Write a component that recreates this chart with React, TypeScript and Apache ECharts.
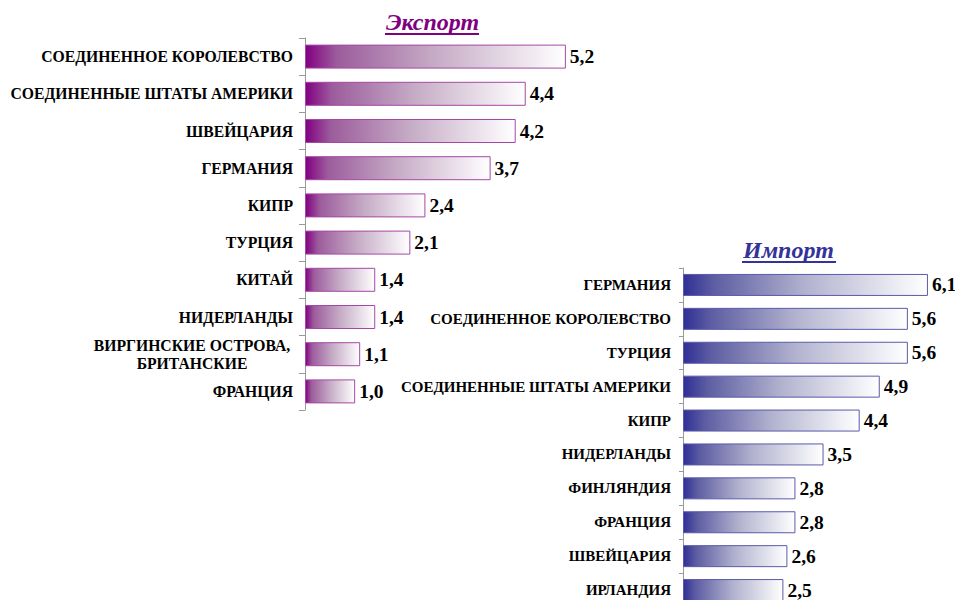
import React, { useEffect, useRef } from "react";
import * as echarts from "echarts";

const exportCategories = [
  "СОЕДИНЕННОЕ КОРОЛЕВСТВО",
  "СОЕДИНЕННЫЕ ШТАТЫ АМЕРИКИ",
  "ШВЕЙЦАРИЯ",
  "ГЕРМАНИЯ",
  "КИПР",
  "ТУРЦИЯ",
  "КИТАЙ",
  "НИДЕРЛАНДЫ",
  "ВИРГИНСКИЕ ОСТРОВА,\nБРИТАНСКИЕ",
  "ФРАНЦИЯ",
];
const exportValues = [5.2, 4.4, 4.2, 3.7, 2.4, 2.1, 1.4, 1.4, 1.1, 1.0];

const importCategories = [
  "ГЕРМАНИЯ",
  "СОЕДИНЕННОЕ КОРОЛЕВСТВО",
  "ТУРЦИЯ",
  "СОЕДИНЕННЫЕ ШТАТЫ АМЕРИКИ",
  "КИПР",
  "НИДЕРЛАНДЫ",
  "ФИНЛЯНДИЯ",
  "ФРАНЦИЯ",
  "ШВЕЙЦАРИЯ",
  "ИРЛАНДИЯ",
];
const importValues = [6.1, 5.6, 5.6, 4.9, 4.4, 3.5, 2.8, 2.8, 2.6, 2.5];

const exportTitle = "Экспорт";
const importTitle = "Импорт";

const FONT = "Liberation Serif";

function grad(c0: string, c1: string, c2: string) {
  return new echarts.graphic.LinearGradient(0, 0, 1, 0, [
    { offset: 0, color: c0 },
    { offset: 0.12, color: c1 },
    { offset: 0.5, color: c2 },
    { offset: 1, color: "#ffffff" },
  ]);
}

const labelFormatter = (v: string) => {
  if (v.indexOf("\n") >= 0) {
    return v
      .split("\n")
      .map((l) => "{c|" + l + "}")
      .join("\n");
  }
  return v;
};

const axisLabel = (size: number) => ({
  color: "#000",
  fontFamily: FONT,
  fontWeight: "bold" as const,
  fontSize: size,
  margin: 12,
  formatter: labelFormatter,
  rich: {
    c: {
      width: 202,
      align: "center" as const,
      fontFamily: FONT,
      fontWeight: "bold" as const,
      fontSize: size,
      lineHeight: 18,
      color: "#000",
    },
  },
});

export default function App() {
  const ref = useRef<HTMLDivElement>(null);
  useEffect(() => {
    if (!ref.current) return;
    const chart = echarts.init(ref.current, null, { renderer: "svg" });
    const fmt = (p: any) => Number(p.value).toFixed(1).replace(".", ",");
    const valueLabel = {
      show: true,
      position: "right",
      distance: 4,
      formatter: fmt,
      color: "#000",
      fontFamily: FONT,
      fontWeight: "bold",
      fontSize: 19.5,
    };
    chart.setOption({
      animation: false,
      backgroundColor: "#ffffff",
      grid: [
        { left: 305, top: 38, width: 301, height: 372 },
        { left: 683, top: 268, width: 261, height: 339 },
      ],
      xAxis: [
        { gridIndex: 0, type: "value", min: 0, max: 6, show: false },
        { gridIndex: 1, type: "value", min: 0, max: 6.5, show: false },
      ],
      yAxis: [
        {
          gridIndex: 0,
          type: "category",
          inverse: true,
          data: exportCategories,
          axisLine: { show: true, lineStyle: { color: "#9a9a9a", width: 1 } },
          axisTick: { show: true, length: 6, lineStyle: { color: "#9a9a9a" } },
          axisLabel: axisLabel(15.7),
        },
        {
          gridIndex: 1,
          type: "category",
          inverse: true,
          data: importCategories,
          axisLine: { show: true, lineStyle: { color: "#9a9a9a", width: 1 } },
          axisTick: { show: true, length: 4, lineStyle: { color: "#9a9a9a" } },
          axisLabel: axisLabel(15),
        },
      ],
      series: [
        {
          type: "bar",
          xAxisIndex: 0,
          yAxisIndex: 0,
          data: exportValues,
          barWidth: 24,
          itemStyle: {
            color: grad("#820082", "#9c5c9c", "#c6acc6"),
            borderColor: "#a548a5",
            borderWidth: 1,
          },
          label: valueLabel,
        },
        {
          type: "bar",
          xAxisIndex: 1,
          yAxisIndex: 1,
          data: importValues,
          barWidth: 22,
          itemStyle: {
            color: grad("#2f2f96", "#5c5ca2", "#b2b2cf"),
            borderColor: "#5a5aaa",
            borderWidth: 1,
          },
          label: valueLabel,
        },
      ],
      graphic: [
        {
          type: "text",
          left: 386,
          top: 10,
          style: {
            text: exportTitle,
            fill: "#800080",
            fontFamily: FONT,
            fontStyle: "italic",
            fontWeight: "bold",
            fontSize: 24,
          },
        },
        {
          type: "line",
          shape: { x1: 385, y1: 34, x2: 479, y2: 34 },
          style: { stroke: "#800080", lineWidth: 2 },
        },
        {
          type: "text",
          left: 743,
          top: 238,
          style: {
            text: importTitle,
            fill: "#333399",
            fontFamily: FONT,
            fontStyle: "italic",
            fontWeight: "bold",
            fontSize: 24,
          },
        },
        {
          type: "line",
          shape: { x1: 742, y1: 262, x2: 836, y2: 262 },
          style: { stroke: "#333399", lineWidth: 2 },
        },
      ],
    });
    return () => chart.dispose();
  }, []);
  return (
    <div style={{ width: 955, height: 600, position: "absolute", left: 0, top: 0, overflow: "hidden" }}>
      <div ref={ref} style={{ position: "absolute", left: 0, top: 0, width: 955, height: 620 }} />
    </div>
  );
}
